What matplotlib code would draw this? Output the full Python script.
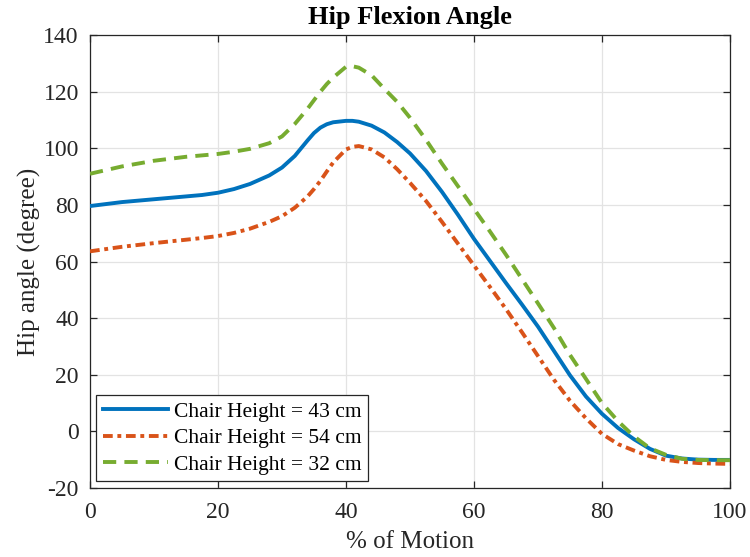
import matplotlib
matplotlib.use("Agg")
import matplotlib.pyplot as plt

plt.rcParams["font.family"] = ["Liberation Serif", "DejaVu Serif"]
plt.rcParams["axes.unicode_minus"] = False

# % of motion sample points
motion = [0, 5, 10, 15, 17.5, 20, 22.5, 25, 28, 30, 32, 34, 35, 36, 37, 38, 40, 41,
          42, 44, 46, 48, 50, 52.5, 55, 57.5, 60, 62.5, 65, 67.5, 70, 72.5, 75,
          77.5, 80, 82.5, 85, 87.5, 90, 92.5, 95, 97.5, 100]

# hip angle (degree) per chair height
hip_43 = [79.6, 81.0, 82.0, 83.0, 83.5, 84.3, 85.6, 87.4, 90.4, 93.2, 97.3, 102.8,
          105.4, 107.3, 108.5, 109.2, 109.7, 109.7, 109.4, 108.0, 105.6, 102.2,
          98.2, 92.0, 84.6, 76.5, 68.0, 60.2, 52.4, 44.8, 37.0, 28.4, 19.8, 12.3,
          6.2, 1.2, -2.8, -6.2, -8.6, -9.6, -10.0, -10.1, -10.1]
hip_54 = [63.6, 65.2, 66.5, 67.7, 68.3, 69.0, 70.1, 71.6, 74.0, 76.0, 79.0, 83.0,
          85.6, 88.5, 91.8, 95.0, 99.6, 100.5, 100.8, 99.6, 96.8, 92.6, 87.8, 81.4,
          74.0, 66.3, 58.6, 51.0, 43.2, 35.0, 26.6, 18.2, 10.8, 4.6, -0.9, -4.5,
          -6.8, -8.8, -10.1, -10.8, -11.2, -11.4, -11.5]
hip_32 = [91.0, 93.6, 95.6, 97.0, 97.5, 98.0, 98.8, 99.8, 101.8, 104.2, 108.6, 114.0,
          117.0, 120.0, 122.7, 125.0, 128.8, 129.0, 128.5, 125.8, 121.0, 116.4,
          110.8, 103.0, 94.6, 86.6, 78.6, 70.6, 62.4, 53.8, 45.2, 36.5, 27.0, 18.5,
          10.0, 3.6, -1.8, -6.0, -8.3, -9.7, -10.1, -10.2, -10.2]

labels = ["Chair Height = 43 cm", "Chair Height = 54 cm", "Chair Height = 32 cm"]
colors = ["#0072BD", "#D95319", "#77AC30"]

x_ticks = [0, 20, 40, 60, 80, 100]
y_ticks = [-20, 0, 20, 40, 60, 80, 100, 120, 140]

fig = plt.figure(figsize=(7.5, 5.57), dpi=100)
ax = fig.add_axes([0.12, 0.124, 0.8533, 0.813])

lw = 2.8
ax.plot(motion, hip_43, color=colors[0], lw=lw, label=labels[0], zorder=3)
ax.plot(motion, hip_54, color=colors[1], lw=lw, label=labels[1],
        dashes=(2.5, 1.2, 1.0, 1.2), zorder=3)
ax.plot(motion, hip_32, color=colors[2], lw=lw, label=labels[2],
        dashes=(3.4, 2.1), zorder=3)

ax.set_xlim(0, 100)
ax.set_ylim(-20, 140)
ax.set_xticks(x_ticks)
ax.set_xticklabels([str(v) for v in x_ticks])
ax.set_yticks(y_ticks)
ax.set_yticklabels([str(v) for v in y_ticks])

ax.grid(True, color="#e3e3e3", lw=0.9)
ax.set_axisbelow(True)
for s in ax.spines.values():
    s.set_color("#262626")
    s.set_linewidth(0.9)
ax.tick_params(direction="in", length=5, width=0.9, color="#262626",
               top=True, right=True, labelsize=17, labelcolor="#262626")
ax.tick_params(axis="x", pad=10)
ax.tick_params(axis="y", pad=8)

ax.set_xlabel("% of Motion", fontsize=18, color="#262626", labelpad=6)
ax.set_ylabel("Hip angle (degree)", fontsize=18, color="#262626", labelpad=2)
ax.set_title("Hip Flexion Angle", fontsize=19, fontweight="bold", pad=8)

leg = ax.legend(loc="lower left", fontsize=15.5, handlelength=3.0,
                handletextpad=0.3, borderaxespad=0.3, borderpad=0.3,
                labelspacing=0.3, fancybox=False, framealpha=1,
                edgecolor="#262626")
leg.get_frame().set_linewidth(0.9)

fig.savefig("out.png", dpi=100)
